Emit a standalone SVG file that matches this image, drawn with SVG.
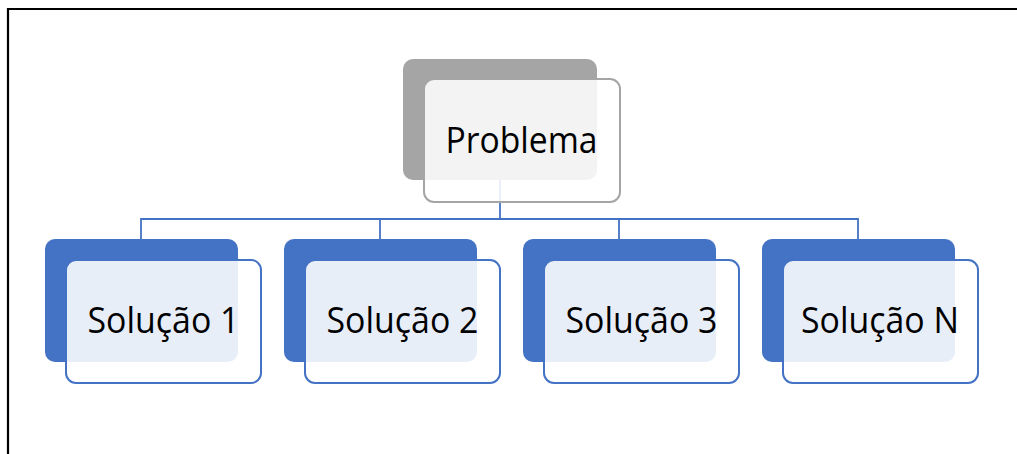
<svg xmlns="http://www.w3.org/2000/svg" width="1017" height="454" viewBox="0 0 1017 454">
<style>
.frame{fill:none;stroke:#000;stroke-width:2.2}
.conn{fill:none;stroke:#4472c4;stroke-width:1.8}
.backg{fill:#a5a5a5}
.backb{fill:#4472c4}
.frontg{fill:#fff;fill-opacity:0.87;stroke:#a5a5a5;stroke-width:2}
.frontb{fill:#fff;fill-opacity:0.88;stroke:#4472c4;stroke-width:2}
.lbl{font-family:"Open Sans","Noto Sans","Liberation Sans",sans-serif;font-size:36px;fill:#000;text-anchor:middle}
</style>
<path class="frame" d="M8,454 V9 H1017"/>
<g id="connectors">
<path class="conn" d="M500,180 V219 M141,239 V219 H858 V239 M380,219 V239 M619,219 V239"/>
</g>
<g id="problema">
<rect class="backg" x="403" y="59" width="194" height="121" rx="10"/>
<rect class="frontg" x="424" y="79" width="196" height="123" rx="10"/>
<text class="lbl" x="521.5" y="153" textLength="152" lengthAdjust="spacingAndGlyphs">Problema</text>
</g>
<g id="solucao1">
<rect class="backb" x="45" y="239" width="193" height="123" rx="10"/>
<rect class="frontb" x="66" y="260" width="195" height="123" rx="10"/>
<text class="lbl" x="163.5" y="333" textLength="152" lengthAdjust="spacingAndGlyphs">Solução 1</text>
</g>
<g id="solucao2">
<rect class="backb" x="284" y="239" width="193" height="123" rx="10"/>
<rect class="frontb" x="305" y="260" width="195" height="123" rx="10"/>
<text class="lbl" x="402.5" y="333" textLength="152" lengthAdjust="spacingAndGlyphs">Solução 2</text>
</g>
<g id="solucao3">
<rect class="backb" x="523" y="239" width="193" height="123" rx="10"/>
<rect class="frontb" x="544" y="260" width="195" height="123" rx="10"/>
<text class="lbl" x="641.5" y="333" textLength="152" lengthAdjust="spacingAndGlyphs">Solução 3</text>
</g>
<g id="solucaoN">
<rect class="backb" x="762" y="239" width="193" height="123" rx="10"/>
<rect class="frontb" x="783" y="260" width="195" height="123" rx="10"/>
<text class="lbl" x="880" y="333" textLength="158" lengthAdjust="spacingAndGlyphs">Solução N</text>
</g>
</svg>
